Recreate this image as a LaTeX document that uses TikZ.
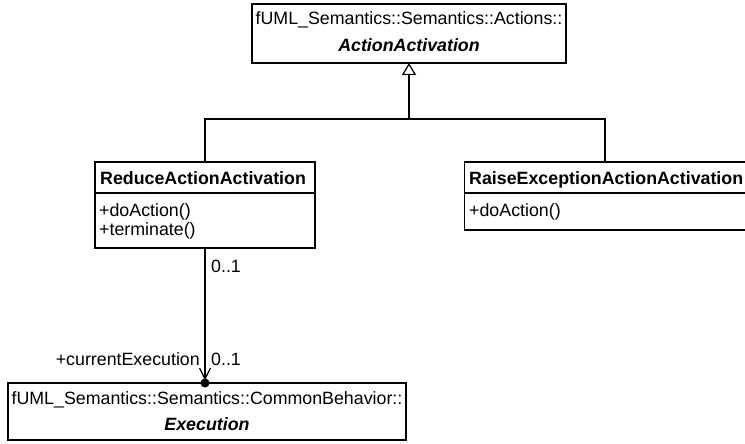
\documentclass[tikz,border=0pt]{standalone}
\usepackage{fontspec}
\setmainfont{Liberation Sans}
\usetikzlibrary{arrows.meta}
\begin{document}
\begin{tikzpicture}[x=1pt,y=-1pt,
  font=\fontsize{17.8}{20}\selectfont,
  box/.style={draw, line width=1.2pt, inner sep=0pt, outer sep=0pt, anchor=north west},
  txt/.style={inner sep=0pt, anchor=center},
  ltxt/.style={inner sep=0pt, anchor=west},
  conn/.style={line width=1.2pt},
  every node/.append style={text depth=0pt}]
\useasboundingbox (0,0) rectangle (745,444);
% ActionActivation
\node[box, minimum width=314pt, minimum height=59pt] (aa) at (252,4) {};
\node[txt] (aat1) at (409,18) {fUML\_Semantics::Semantics::Actions::};
\node[txt] (aat2) at (409,45) {\bfseries\itshape ActionActivation};
% ReduceActionActivation
\node[box, minimum width=220pt, minimum height=86pt] (rd) at (95,162) {};
\draw[conn] (rd.west |- 0,193) -- (rd.east |- 0,193);
\node[ltxt] (rdn) at (100,178) {\bfseries ReduceActionActivation};
\node[ltxt] (rdo1) at (99,210) {+doAction()};
\node[ltxt] (rdo2) at (99,229) {+terminate()};
% RaiseExceptionActionActivation
\node[box, minimum width=281pt, minimum height=68pt] (rs) at (464.5,162) {};
\draw[conn] (rs.west |- 0,193) -- (rs.east |- 0,193);
\node[ltxt] (rsn) at (469,178) {\bfseries RaiseExceptionActionActivation};
\node[ltxt] (rso1) at (469,210) {+doAction()};
% Execution
\node[box, minimum width=398pt, minimum height=57pt] (ex) at (8,383) {};
\node[txt] (ext1) at (207,398) {fUML\_Semantics::Semantics::CommonBehavior::};
\node[txt] (ext2) at (207,424) {\bfseries\itshape Execution};
% generalizations
\coordinate (j) at (aa.south |- 0,119);
\draw[conn] (rd.north) |- (j) -| (rs.north);
\draw[conn, -{Triangle[open, length=12pt, width=14pt, line width=1.2pt]}] (j) -- (aa.south);
% association
\coordinate (ed) at (rd.south |- ex.north);
\coordinate (tip) at ([yshift=4pt]ed);
\fill (ed) circle (4.5pt);
\draw[conn] (rd.south) -- (tip);
\draw[conn, line join=miter] ([shift={(-5.5,-11)}]tip) -- (tip) -- ([shift={(5.5,-11)}]tip);
\node[ltxt] (m1) at (211,266) {0..1};
\node[ltxt] (m2) at (211,359) {0..1};
\node[inner sep=0pt, anchor=east] (role) at (200,359) {+currentExecution};
\end{tikzpicture}
\end{document}
